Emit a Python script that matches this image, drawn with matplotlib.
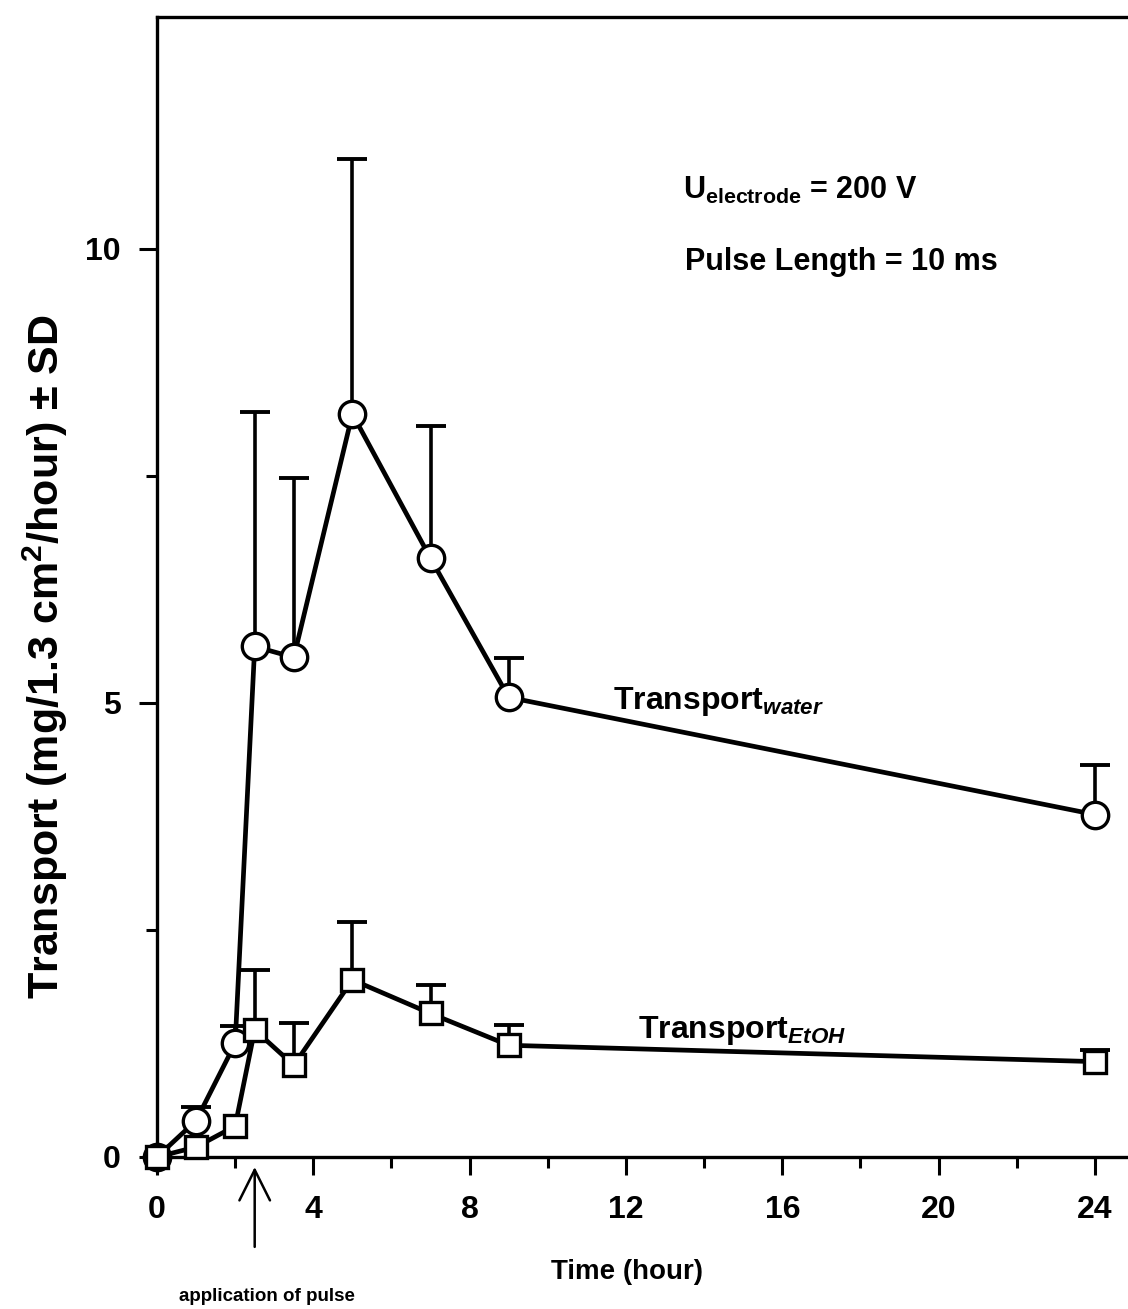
import numpy as np
import matplotlib
matplotlib.use("Agg")
import matplotlib.pyplot as plt
from matplotlib.ticker import MultipleLocator, FixedLocator

plt.rcParams['font.family'] = ['Liberation Sans', 'DejaVu Sans']
plt.rcParams['font.weight'] = 'bold'
plt.rcParams['mathtext.fontset'] = 'custom'
plt.rcParams['mathtext.rm'] = 'Liberation Sans:bold'
plt.rcParams['mathtext.bf'] = 'Liberation Sans:bold'
plt.rcParams['mathtext.it'] = 'Liberation Sans:bold:italic'

# sampling times (hour)
time_h = [0, 1, 2, 2.5, 3.5, 5, 7, 9, 24]

# water transport, mean and upper SD
water_mean = [0.0, 0.40, 1.25, 5.62, 5.50, 8.18, 6.59, 5.06, 3.77]
water_sd = [0.0, 0.15, 0.19, 2.58, 1.98, 2.81, 1.46, 0.43, 0.55]

# ethanol transport, mean and upper SD
etoh_mean = [0.0, 0.11, 0.34, 1.40, 1.01, 1.95, 1.58, 1.23, 1.05]
etoh_sd = [0.0, 0.0, 0.0, 0.66, 0.46, 0.64, 0.31, 0.22, 0.13]

pulse_time = 2.5


def upper_errorbars(ax, t, m, sd):
    # only the +SD half with a cap on top, like the original
    t, m, sd = np.array(t), np.array(m), np.array(sd)
    keep = sd > 0
    ax.vlines(t[keep], m[keep], m[keep] + sd[keep], color='black', lw=2.6, zorder=2)
    ax.plot(t[keep], m[keep] + sd[keep], ls='none', marker='_', ms=22, mew=2.8,
            color='black', zorder=2)


fig = plt.figure(figsize=(11.28, 13.09), dpi=100)
ax = fig.add_axes([157/1128, (1309-1157)/1309, (25*39.08)/1128, (1157-17)/1309])

upper_errorbars(ax, time_h, water_mean, water_sd)
upper_errorbars(ax, time_h, etoh_mean, etoh_sd)

ax.plot(time_h, water_mean, color='black', lw=3.4, marker='o', ms=19,
        mfc='white', mec='black', mew=2.4, zorder=3, clip_on=False)
ax.plot(time_h, etoh_mean, color='black', lw=3.4, marker='s', ms=16.5,
        mfc='white', mec='black', mew=2.4, zorder=4, clip_on=False)

ax.set_xlim(0, 25)
ax.set_ylim(0, 12.55)
ax.xaxis.set_major_locator(MultipleLocator(4))
ax.xaxis.set_minor_locator(MultipleLocator(2))
ax.yaxis.set_major_locator(MultipleLocator(5))
ax.yaxis.set_minor_locator(FixedLocator([2.5, 7.5]))
ax.tick_params(which='major', direction='out', length=13, width=2.2, labelsize=23)
ax.tick_params(which='minor', direction='out', length=8, width=2.2)
ax.tick_params(axis='x', which='major', pad=14)
ax.tick_params(axis='y', which='major', pad=13)
for lab in ax.get_xticklabels() + ax.get_yticklabels():
    lab.set_fontweight('bold')
for s in ['left', 'bottom', 'top']:
    ax.spines[s].set_linewidth(2.4)
ax.spines['right'].set_visible(False)

fig.text(627/1128, 1-1272/1309, 'Time (hour)', ha='center', va='center',
         fontsize=20, fontweight='bold')
fig.text(45/1128, 1-657/1309, r'Transport (mg/1.3 cm$^2$/hour) $\pm$ SD', rotation=90,
         ha='center', va='center', fontsize=31, fontweight='bold')

ax.text(13.45, 10.55, r'U$_{\mathrm{electrode}}$ = 200 V', fontsize=22, fontweight='bold', va='baseline')
ax.text(13.5, 9.77, 'Pulse Length = 10 ms', fontsize=22, fontweight='bold', va='baseline')
ax.text(11.67, 4.93, r'Transport$_{\mathit{water}}$', fontsize=23, fontweight='bold', va='baseline')
ax.text(12.3, 1.31, r'Transport$_{\mathit{EtOH}}$', fontsize=23, fontweight='bold', va='baseline')

ax.annotate('', xy=(pulse_time, -0.08), xytext=(pulse_time, -1.02),
            xycoords='data', textcoords='data', annotation_clip=False,
            arrowprops=dict(arrowstyle='->', lw=1.8, color='black', mutation_scale=55))
ax.text(2.82, -1.54, 'application of pulse', fontsize=13.5, fontweight='bold',
        ha='center', va='center', clip_on=False)

fig.savefig('out.png', dpi=100)
